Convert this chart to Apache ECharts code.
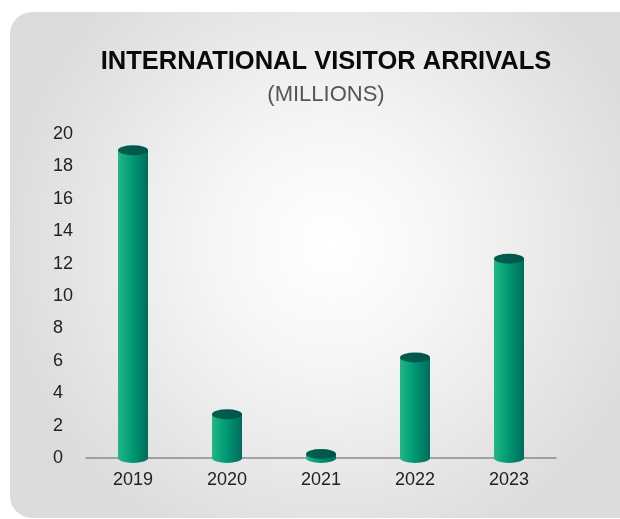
<!DOCTYPE html>
<html>
<head>
<meta charset="utf-8">
<script src="https://cdn.jsdelivr.net/npm/echarts@6/dist/echarts.min.js"></script>
<style>
html,body{margin:0;padding:0;background:#fff;}
#c{width:620px;height:519px;}
</style>
</head>
<body>
<div id="c"></div>
<script>
var categories = ['2019', '2020', '2021', '2022', '2023'];
var arrivals = [19.0, 2.7, 0.25, 6.2, 12.3];
var yTicks = {min: 0, max: 20, interval: 2};
var titleText = 'INTERNATIONAL VISITOR ARRIVALS';
var subtitleText = '(MILLIONS)';

var bodyGradient = {
  type: 'linear', x: 0, y: 0, x2: 1, y2: 0,
  colorStops: [
    {offset: 0, color: '#22b884'},
    {offset: 0.45, color: '#009a74'},
    {offset: 1, color: '#006b5b'}
  ]
};
var topGradient = {
  type: 'linear', x: 0, y: 0, x2: 1, y2: 0,
  colorStops: [
    {offset: 0, color: '#00604f'},
    {offset: 1, color: '#00544a'}
  ]
};
var BW = 30;

var chart = echarts.init(document.getElementById('c'));
chart.setOption({
  animation: false,
  graphic: [{
    type: 'rect', z: -10, silent: true,
    shape: {x: 10, y: 12, width: 640, height: 506, r: 22},
    style: {
      fill: {
        type: 'radial', x: 0.5, y: 0.46, r: 0.65,
        colorStops: [
          {offset: 0, color: '#ffffff'},
          {offset: 0.35, color: '#f6f6f6'},
          {offset: 1, color: '#dcdcdc'}
        ]
      }
    }
  }],
  title: [{
    text: titleText, left: 321, top: 44, textAlign: 'center',
    textStyle: {fontFamily: 'Liberation Sans', fontWeight: 'bold', fontSize: 25.5, color: '#0a0a0a'}
  }, {
    text: subtitleText, left: 321, top: 79, textAlign: 'center',
    textStyle: {fontFamily: 'Liberation Sans', fontWeight: 'normal', fontSize: 22, color: '#555'}
  }],
  grid: {left: 86, right: 64, top: 134, bottom: 61},
  xAxis: {
    type: 'category', data: categories,
    axisLine: {show: true, lineStyle: {color: '#8a8a8a', width: 1.5}},
    axisTick: {show: false},
    axisLabel: {color: '#222', fontSize: 18, fontFamily: 'Liberation Sans', margin: 13}
  },
  yAxis: {
    type: 'value', min: yTicks.min, max: yTicks.max, interval: yTicks.interval,
    splitLine: {show: false}, axisLine: {show: false}, axisTick: {show: false},
    axisLabel: {color: '#222', fontSize: 18, fontFamily: 'Liberation Sans', align: 'left', margin: 33}
  },
  series: [{
    type: 'bar', data: arrivals, barWidth: BW, z: 2,
    itemStyle: {color: bodyGradient}
  }, {
    type: 'pictorialBar', data: arrivals.map(function(){ return 0.0001; }),
    symbol: 'circle', symbolSize: [BW, 10], symbolOffset: [0, '50%'], z: 1,
    symbolPosition: 'start',
    itemStyle: {color: bodyGradient}
  }, {
    type: 'pictorialBar', data: arrivals, symbol: 'circle',
    symbolSize: [BW, 10], symbolOffset: [0, '-50%'], symbolPosition: 'end', z: 3,
    itemStyle: {color: topGradient}
  }]
});
</script>
</body>
</html>
